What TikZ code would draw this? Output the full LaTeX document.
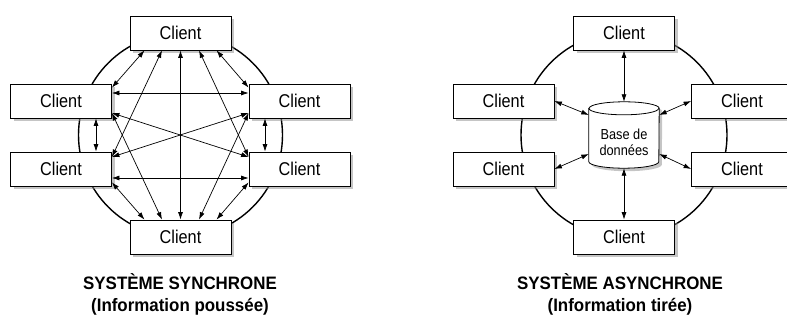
\documentclass[tikz,border=0pt]{standalone}
\usepackage{fontspec}
\setmainfont{Liberation Sans}
\newfontfamily\clientfont[FakeStretch=0.88]{Liberation Sans}
\newfontfamily\titlefont[FakeStretch=0.94]{Liberation Sans}
\usetikzlibrary{shadows,arrows.meta}
\begin{document}
\begin{tikzpicture}[x=1pt,y=1pt,
  shad/.style={drop shadow={shadow xshift=3pt, shadow yshift=-3pt, fill=black!45, opacity=0.5}},
  client/.style={draw, fill=white, line width=0.8pt, minimum width=101pt, minimum height=34pt,
    inner sep=0pt, font=\clientfont\fontsize{18.5}{20}\selectfont, shad},
  link/.style={{Latex[length=7.5pt,width=5pt]}-{Latex[length=7.5pt,width=5pt]}, line width=0.7pt},
  ring/.style={line width=1.4pt},
  title/.style={align=center, font=\titlefont\bfseries\fontsize{18}{21.5}\selectfont},
  dbtext/.style={align=center, font=\clientfont\fontsize{14.5}{16}\selectfont}]
\useasboundingbox (0,0) rectangle (787,-320);

% ---------- left: synchronous ----------
\coordinate (c1) at (180.5,-135);
\draw[ring] (c1) circle (102);
\node[client] (T1)  at (180.5,-33)  {Client};
\node[client] (UL1) at (61,-101)    {Client};
\node[client] (UR1) at (299.5,-101) {Client};
\node[client] (LL1) at (61,-169)    {Client};
\node[client] (LR1) at (299.5,-169) {Client};
\node[client] (B1)  at (180.5,-237) {Client};

\draw[link] ([xshift=-36pt]T1.south) -- ([yshift=-4pt]UL1.north east);
\draw[link] ([xshift=-18.5pt]T1.south) -- ([yshift=12pt]LL1.east);
\draw[link] (T1.south) -- (B1.north);
\draw[link] ([xshift=18.5pt]T1.south) -- ([yshift=12pt]LR1.west);
\draw[link] ([xshift=36pt]T1.south) -- ([yshift=-4pt]UR1.north west);
\draw[link] ([yshift=8pt]UL1.east) -- ([yshift=8pt]UR1.west);
\draw[link] ([yshift=-12pt]UL1.east) -- ([yshift=12pt]LR1.west);
\draw[link] ([yshift=-12pt]UR1.west) -- ([yshift=12pt]LL1.east);
\draw[link] ([yshift=-12pt]UL1.east) -- ([xshift=-18.5pt]B1.north);
\draw[link] ([yshift=-12pt]UR1.west) -- ([xshift=18.5pt]B1.north);
\draw[link] ([xshift=35pt]UL1.south) -- ([xshift=35pt]LL1.north);
\draw[link] ([xshift=-34.5pt]UR1.south) -- ([xshift=-34.5pt]LR1.north);
\draw[link] ([yshift=-9pt]LL1.east) -- ([yshift=-9pt]LR1.west);
\draw[link] ([yshift=4pt]LL1.south east) -- ([xshift=-36pt]B1.north);
\draw[link] ([yshift=4pt]LR1.south west) -- ([xshift=36pt]B1.north);

\node[title] (tt1) at (180,-294.5) {SYSTÈME SYNCHRONE\\(Information poussée)};

% ---------- right: asynchronous ----------
\coordinate (c2) at (624,-135);
\draw[ring] (c2) circle (103);
\node[client] (T2)  at (624,-33)    {Client};
\node[client] (UL2) at (503.5,-101) {Client};
\node[client] (UR2) at (742,-101)   {Client};
\node[client] (LL2) at (503.5,-169) {Client};
\node[client] (LR2) at (742,-169)   {Client};
\node[client] (B2)  at (624,-237)   {Client};

\node[minimum width=70pt, minimum height=66pt, inner sep=0pt] (db) at (624,-135) {};
\path[draw, fill=white, line width=0.8pt, shad]
  ([yshift=-6.5pt]db.north west) -- ([yshift=6.5pt]db.south west)
  arc[start angle=180, end angle=360, x radius=35pt, y radius=6.5pt]
  -- ([yshift=-6.5pt]db.north east)
  arc[start angle=0, end angle=180, x radius=35pt, y radius=6.5pt] -- cycle;
\draw[line width=0.8pt] ([yshift=-6.5pt]db.north west)
  arc[start angle=180, end angle=360, x radius=35pt, y radius=6.5pt];
\node[dbtext] (dbt) at (624,-142) {Base de\\données};

\draw[link] (T2.south) -- (db.north);
\draw[link] (B2.north) -- (db.south);
\draw[link] (UL2.east) -- ([yshift=20pt]db.west);
\draw[link] (LL2.east) -- ([yshift=-19pt]db.west);
\draw[link] (UR2.west) -- ([yshift=20pt]db.east);
\draw[link] (LR2.west) -- ([yshift=-19pt]db.east);

\node[title] (tt2) at (620,-294.5) {SYSTÈME ASYNCHRONE\\(Information tirée)};
\end{tikzpicture}
\end{document}
